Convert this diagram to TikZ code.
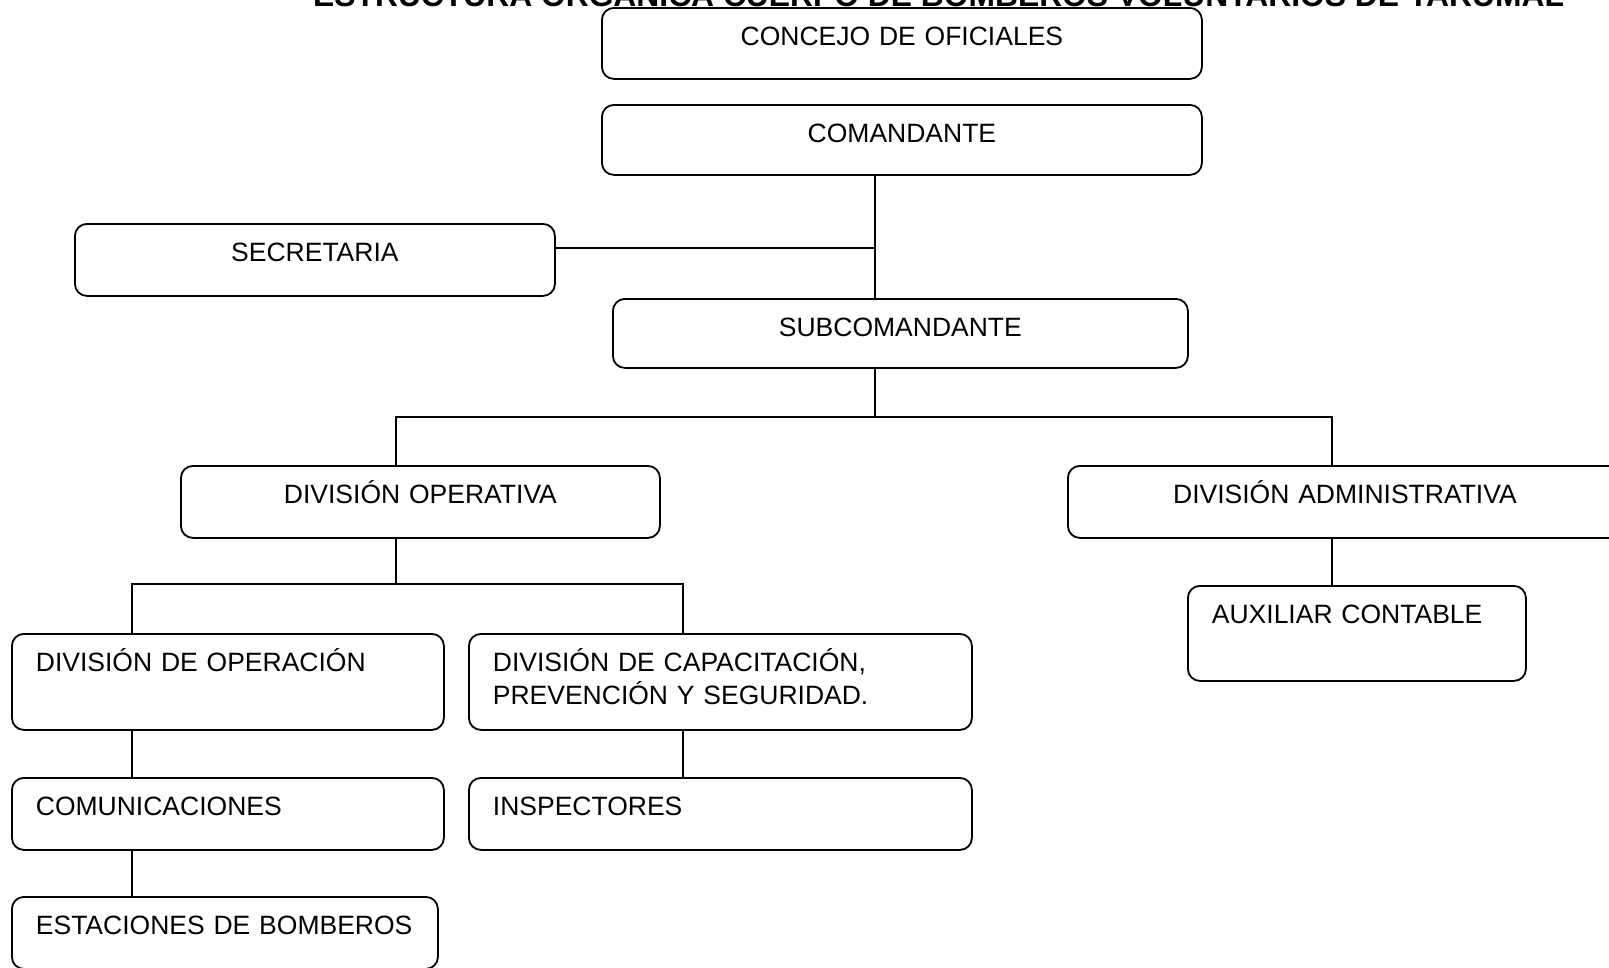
\documentclass[tikz,border=0pt]{standalone}
\usepackage{fontspec}
\setmainfont{Liberation Sans}
\tikzset{%
orgbox/.style 2 args={draw,rounded corners=12pt,line width=1.8pt,inner xsep=24pt,inner ysep=0pt,anchor=north west,text height=38pt,text width=#1,text depth=#2,font=\fontsize{26.5}{32}\selectfont},
midbox/.style 2 args={orgbox={#1}{#2},align=center},
leftbox/.style 2 args={orgbox={#1}{#2},align=left},
link/.style={line width=1.8pt},
heading/.style={font=\fontsize{31.8}{38}\selectfont\bfseries,anchor=base west,inner sep=0pt}
}
\begin{document}
\begin{tikzpicture}[x=1pt,y=-1pt]
    \useasboundingbox (0,0) rectangle (1609,967);
    \clip (0,0) rectangle (1609,967);

    \node[heading] (titulo) at (313,6) {ESTRUCTURA ORGÁNICA CUERPO DE BOMBEROS VOLUNTARIOS DE YARUMAL};

    \node[midbox={552pt}{33pt}] (concejo) at (601,7) {CONCEJO DE OFICIALES};
    \node[midbox={552pt}{32pt}] (coman) at (601,104) {COMANDANTE};
    \node[midbox={432pt}{34pt}] (secre) at (74,223) {SECRETARIA};
    \node[midbox={527pt}{31pt}] (subco) at (612,298) {SUBCOMANDANTE};
    \node[midbox={431pt}{34pt}] (divop) at (180,465) {DIVISIÓN OPERATIVA};
    \node[midbox={506pt}{34pt}] (divad) at (1067,465) {DIVISIÓN ADMINISTRATIVA};
    \node[leftbox={290pt}{57pt}] (auxco) at (1187,585) {AUXILIAR CONTABLE};
    \node[leftbox={384pt}{58pt}] (opera) at (11,633) {DIVISIÓN DE OPERACIÓN};
    \node[leftbox={455pt}{58pt}] (capac) at (468,633) {\begin{tabular}[t]{@{}l@{}}DIVISIÓN DE CAPACITACIÓN,\\PREVENCIÓN Y SEGURIDAD.\end{tabular}};
    \node[leftbox={384pt}{34pt}] (comun) at (11,777) {COMUNICACIONES};
    \node[leftbox={455pt}{34pt}] (inspe) at (468,777) {INSPECTORES};
    \node[leftbox={378pt}{34pt}] (estac) at (11,896) {\mbox{ESTACIONES DE BOMBEROS}};

    \coordinate (jsec) at (875,248);
    \coordinate (jsub) at (875,417);
    \coordinate (jl) at (396,417);
    \coordinate (jr) at (1332,417);
    \coordinate (jop) at (396,584);
    \coordinate (jol) at (132,584);
    \coordinate (jor) at (683,584);

    \draw[link] (coman.south -| jsec) -- (subco.north -| jsec);
    \draw[link] (secre.east |- jsec) -- (jsec);
    \draw[link] (subco.south -| jsub) -- (jsub);
    \draw[link] (divop.north -| jl) -- (jl) -- (jr) -- (divad.north -| jr);
    \draw[link] (divad.south -| jr) -- (auxco.north -| jr);
    \draw[link] (divop.south -| jop) -- (jop);
    \draw[link] (opera.north -| jol) -- (jol) -- (jor) -- (capac.north -| jor);
    \draw[link] (opera.south -| jol) -- (comun.north -| jol);
    \draw[link] (comun.south -| jol) -- (estac.north -| jol);
    \draw[link] (capac.south -| jor) -- (inspe.north -| jor);

  \end{tikzpicture}
\end{document}
